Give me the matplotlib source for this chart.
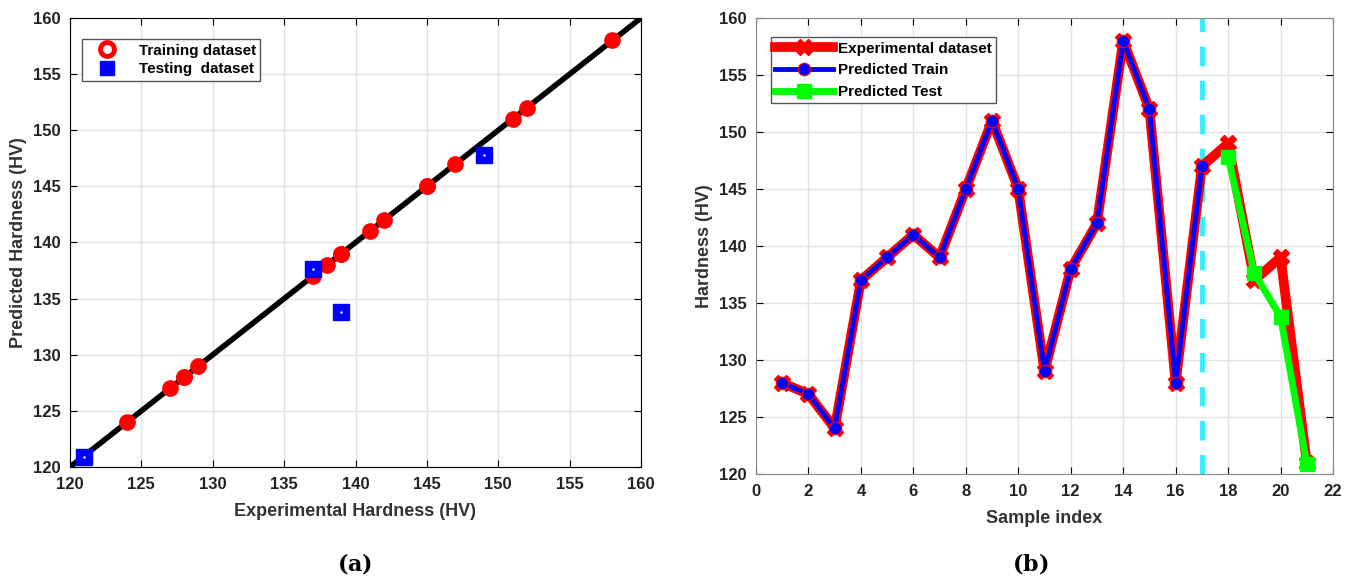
import matplotlib
matplotlib.use("Agg")
import matplotlib.pyplot as plt
from matplotlib.lines import Line2D
import numpy as np

# data
sample_idx = list(range(1, 22))
experimental = [128, 127, 124, 137, 139, 141, 139, 145, 151, 145, 129,
                138, 142, 158, 152, 128, 147, 149, 137, 139, 121]
n_train = 17
pred_train = experimental[:n_train]
test_idx = [18, 19, 20, 21]
pred_test = [147.8, 137.6, 133.8, 120.9]

train_exp = experimental[:n_train]
test_exp = experimental[n_train:]

plt.rcParams['font.family'] = ['Liberation Sans', 'DejaVu Sans']
plt.rcParams['font.weight'] = 'bold'
plt.rcParams['axes.labelweight'] = 'bold'
plt.rcParams['mathtext.fontset'] = 'dejavuserif'

fig = plt.figure(figsize=(13.52, 5.79), dpi=100)
W, H = 1352, 579
ax1 = fig.add_axes([70 / W, 1 - 467 / H, (641 - 70) / W, (467 - 18) / H])
ax2 = fig.add_axes([756 / W, 1 - 474 / H, (1333 - 756) / W, (474 - 18) / H])

# ---- (a) parity plot
ax1.plot([120, 160], [120, 160], color='black', lw=4, zorder=2)
ax1.plot(train_exp, pred_train, 'o', color='red', ms=11, zorder=3)
ax1.plot(test_exp, pred_test, 's', color='blue', ms=11, zorder=4)
ax1.plot(test_exp, pred_test, '.', color='white', ms=1.5, zorder=5)
ax1.set_xlim(120, 160)
ax1.set_ylim(120, 160)
ax1.set_xticks(np.arange(120, 161, 5))
ax1.set_yticks(np.arange(120, 161, 5))
ax1.set_xlabel('Experimental Hardness (HV)', fontsize=13, color='#333333', labelpad=8)
ax1.set_ylabel('Predicted Hardness (HV)', fontsize=13, color='#333333')
h1 = [Line2D([], [], ls='none', marker='o', ms=10, mfc='white', mec='red', mew=3.5),
      Line2D([], [], ls='none', marker='s', ms=10, color='blue')]
ax1.legend(h1, ['Training dataset', 'Testing  dataset'], loc='upper left',
           bbox_to_anchor=(0.008, 0.97), fancybox=False, edgecolor='#555555',
           framealpha=1, fontsize=11, handlelength=2.6, handletextpad=0.8,
           borderpad=0.3, labelspacing=0.3)
for s in ax1.spines.values():
    s.set_color('black')

# ---- (b) sample index plot
ax2.axvline(17, color='#33eeff', lw=3.5, ls=(0, (4, 3)), zorder=1)
ax2.plot(sample_idx, experimental, '-X', color='red', lw=7, ms=11, zorder=2,
         label='Experimental dataset')
ax2.plot(sample_idx[:n_train], pred_train, '-o', color='blue', lw=3.5, ms=9,
         mec='red', mew=0.8, zorder=3, label='Predicted Train')
ax2.plot(test_idx, pred_test, '-s', color='#00ff00', lw=5, ms=10, zorder=4,
         label='Predicted Test')
ax2.set_xlim(0, 22)
ax2.set_ylim(120, 160)
ax2.set_xticks(np.arange(0, 23, 2))
ax2.set_yticks(np.arange(120, 161, 5))
ax2.set_xlabel('Sample index', fontsize=13, color='#333333', labelpad=8)
ax2.set_ylabel('Hardness (HV)', fontsize=13, color='#333333')
ax2.legend(loc='upper left', bbox_to_anchor=(0.012, 0.975), fancybox=False,
           edgecolor='#555555', framealpha=1, fontsize=11, handlelength=3.8,
           handletextpad=0.3, borderpad=0.3, labelspacing=0.5)
for s in ax2.spines.values():
    s.set_color('#888888')

for ax in (ax1, ax2):
    ax.grid(True, color='#e3e3e3', lw=1)
    ax.set_axisbelow(True)
    ax.tick_params(direction='in', top=True, right=True, length=5, pad=7,
                   labelsize=12, labelcolor='#222222')
    for lab in ax.get_xticklabels() + ax.get_yticklabels():
        lab.set_fontweight('bold')

fig.text(355 / W, 1 - 563 / H, r'($\mathbf{a}$)', fontsize=16,
         family='DejaVu Serif', ha='center', va='center')
fig.text(1030 / W, 1 - 563 / H, r'($\mathbf{b}$)', fontsize=16,
         family='DejaVu Serif', ha='center', va='center')

fig.savefig('out.png', dpi=100)
